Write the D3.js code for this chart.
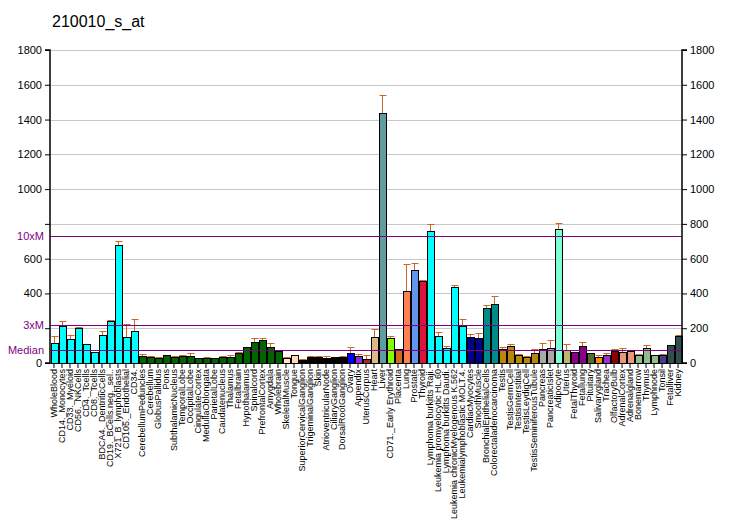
<!DOCTYPE html>
<html><head><meta charset="utf-8">
<script src="https://cdn.jsdelivr.net/npm/d3@7/dist/d3.min.js"></script>
<style>body{margin:0;background:#fff}svg{display:block;font-family:Arial,"Liberation Sans",sans-serif}</style>
</head><body><svg id="c" width="732" height="530"></svg>
<script>
const title = "210010_s_at";
const categories = ["WholeBlood","CD14._Monocytes","CD33._Myeloid","CD56._NKCells","CD4._Tcells","CD8._Tcells","BDCA4._DentriticCells","CD19._BCells.neg._sel..","X721_B_lymphoblasts","CD105._Endothelial","CD34.",
"CerebellumPeduncles","Cerebellum","GlobusPallidus","Pons","SubthalamicNucleus","TemporalLobe","OccipitalLobe","CingulateCortex","MedullaOblongata","ParietalLobe","Caudatenucleus","Thalamus","Fetalbrain","Hypothalamus","Spinalcord","PrefrontalCortex","Amygdala","Wholebrain",
"SkeletalMuscle","Tongue","SuperiorCervicalGanglion","TrigeminalGanglion","Skin","AtrioventricularNode","CiliaryGanglion","DorsalRootGanglion","Ovary","Appendix","UterusCorpus","Heart","Liver","CD71._Early Erythroid","Placenta","Lung","Prostate","Thyroid",
"Lymphoma burkitts Raji.","Leukemia promyelocytic HL.60","Lymphoma burkitts Daudi.","Leukemia chronicMyelogenous K.562","Leukemialymphoblastic MOLT.4.","CardiacMyocytes","SmoothMuscle","BronchialEpithelialCells","Colorectaladenocarcinoma",
"Testis","TestisGermCell","TestisInterstitial","TestisLeydigCell","TestisSeminiferousTubule","Pancreas","PancreaticIslet","Adipocyte","Uterus","FetalThyroid","Fetallung","Pituitary","Salivarygland","Trachea","OlfactoryBulb","AdrenalCortex","Adrenalgland","Bonemarrow","Thymus","Lymphnode","Tonsil","Fetalliver","Kidney"];
const values = [115,213,136,199,107,63,161,241,678,148,182,
38,34,27,44,34,38,38,27,27,27,34,34,57,90,121,132,90,67,
27,44,17,34,34,27,34,34,57,38,21,150,1438,142,79,414,533,472,
757,153,84,435,215,150,144,316,337,
79,98,46,34,57,79,86,769,73,61,96,56,33,44,67,61,67,44,84,44,44,101,153];
const errors = [153,240,161,205,107,63,182,249,700,222,251,
50,42,33,44,40,44,56,27,33,27,40,44,63,90,142,142,113,67,
33,44,21,38,38,38,34,38,90,50,44,194,1541,153,79,567,573,480,
797,176,96,447,253,165,171,332,383,
92,109,52,40,79,113,130,803,107,61,119,56,44,56,79,84,67,50,101,44,50,101,159];
const colors = ["#00ffff","#00ffff","#00ffff","#00ffff","#00ffff","#00ffff","#00ffff","#00ffff","#00ffff","#00ffff","#00ffff",
"#006400","#006400","#006400","#006400","#006400","#006400","#006400","#006400","#006400","#006400","#006400","#006400","#006400","#006400","#006400","#006400","#006400","#006400",
"#ffe4c4","#ffdab9","#000000","#000000","#000000","#000000","#000000","#000000","#0000ff","#8a2be2","#b22222","#deb887","#5f9ea0","#7fff00","#d2691e","#ff7f50","#6495ed","#dc143c",
"#00ffff","#00ffff","#00ffff","#00ffff","#00ffff","#00008b","#00008b","#008b8b","#008b8b",
"#b8860b","#b8860b","#b8860b","#b8860b","#b8860b","#a9a9a9","#a9a9a9","#7fffd4","#bdb76b","#8b008b","#8b008b","#556b2f","#ff8c00","#9932cc","#8b0000","#e9967a","#e9967a","#8fbc8f","#8fbc8f","#8fbc8f","#483d8b","#2f4f4f","#2f4f4f"];
const yTicks = [0,200,400,600,800,1000,1200,1400,1600,1800];
const leftHidden = [200,800];
const median = 73;
const refLines = [{label:"Median", v:median},{label:"3xM", v:median*3},{label:"10xM", v:median*10}];

const svg = d3.select("#c");
const L=50,R=682,T=50,B=363;
const x = d3.scaleBand().domain(categories).range([L,R]).paddingInner(0.17).paddingOuter(0.08);
const y = d3.scaleLinear().domain([0,1800]).range([B,T]);

svg.append("text").attr("x",52).attr("y",27).attr("font-size",16).text(title);

// grid
svg.append("g").selectAll("line").data(yTicks.filter(d=>d>0)).join("line")
  .attr("x1",L).attr("x2",R).attr("y1",d=>Math.round(y(d))+0.5).attr("y2",d=>Math.round(y(d))+0.5)
  .attr("stroke","#c8c8c8").attr("stroke-width",1);

// error bars
const eb = svg.append("g").attr("stroke","#c8682a").attr("stroke-width",1);
categories.forEach((c,i)=>{
  if(errors[i]>values[i]){
    const cx = Math.round(x(c)+x.bandwidth()/2)+0.5;
    eb.append("line").attr("x1",cx).attr("x2",cx).attr("y1",y(values[i])).attr("y2",Math.round(y(errors[i]))+0.5);
    eb.append("line").attr("x1",cx-3).attr("x2",cx+4).attr("y1",Math.round(y(errors[i]))+0.5).attr("y2",Math.round(y(errors[i]))+0.5);
  }
});

// bars
svg.append("g").selectAll("rect").data(categories).join("rect")
  .attr("x",d=>Math.round(x(d))+0.5).attr("width",Math.round(x.bandwidth()))
  .attr("y",(d,i)=>Math.round(y(values[i]))+0.5).attr("height",(d,i)=>B-Math.round(y(values[i])))
  .attr("fill",(d,i)=>colors[i]).attr("stroke","#000").attr("stroke-width",1);

// reference lines
svg.append("g").selectAll("line").data(refLines).join("line")
  .attr("x1",L).attr("x2",R).attr("y1",d=>Math.round(y(d.v))+0.5).attr("y2",d=>Math.round(y(d.v))+0.5)
  .attr("stroke","#800080").attr("stroke-width",1.2);
svg.append("g").selectAll("text").data(refLines).join("text")
  .attr("x",44).attr("y",d=>y(d.v)+4).attr("text-anchor","end").attr("font-size",11).attr("fill","#800080").text(d=>d.label);

// axes
const fmt = d3.format("d");
const la = svg.append("g").attr("transform",`translate(${L},0)`)
  .call(d3.axisLeft(y).tickValues(yTicks).tickSize(5).tickFormat(d=>leftHidden.includes(d)?"":fmt(d)));
const ra = svg.append("g").attr("transform",`translate(${R},0)`)
  .call(d3.axisRight(y).tickValues(yTicks).tickSize(5).tickFormat(fmt));
[la,ra].forEach(a=>{a.select(".domain").attr("stroke","#000").attr("stroke-width",1.5);
  a.selectAll("text").attr("font-size",11).attr("font-family","Arial, 'Liberation Sans', sans-serif").attr("fill","#000");});
la.select(".domain").attr("d",`M-5,${B}H0V${T}H-5`);
ra.select(".domain").attr("d",`M5,${B}H0V${T}H5`);

const xa = svg.append("g").attr("transform",`translate(0,${B})`).call(d3.axisBottom(x).tickSize(5).tickSizeOuter(0));
xa.select(".domain").attr("stroke","#000");
xa.selectAll("text").attr("font-size",9).attr("font-family","Arial, 'Liberation Sans', sans-serif")
  .attr("transform","rotate(-90)").attr("text-anchor","end").attr("x",-6).attr("y",0).attr("dy","0.35em").attr("fill","#000");
</script></body></html>
